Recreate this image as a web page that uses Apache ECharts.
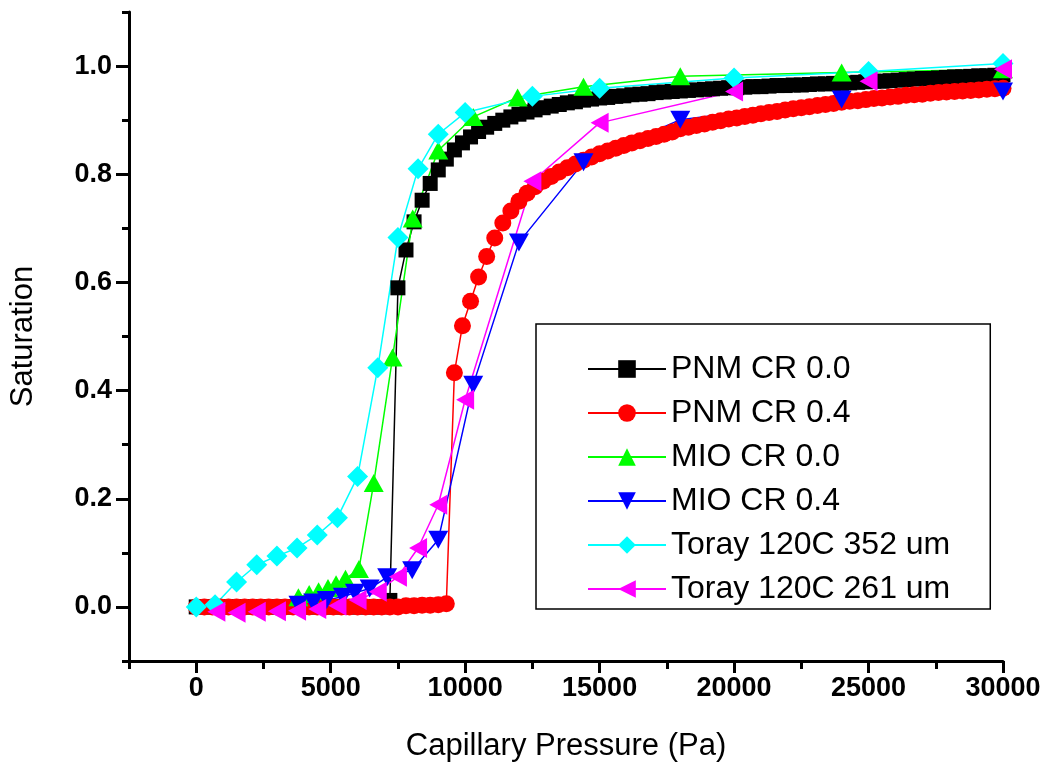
<!DOCTYPE html>
<html><head><meta charset="utf-8">
<script src="https://cdn.jsdelivr.net/npm/echarts@6/dist/echarts.min.js"></script>
<style>html,body{margin:0;padding:0;background:#fff}#c{width:1046px;height:767px}</style>
</head><body><div id="c"></div>
<script>
// PNM pressures (Pa)
const pnmPressure = [
0,300,600,900,1200,1500,1800,2100,2400,2700,
3000,3300,3600,3900,4200,4500,4800,5100,5400,5700,
6000,6300,6600,6900,7200,7500,7800,8100,8400,8700,
9000,9300,9600,9900,10200,10500,10800,11100,11400,11700,
12000,12300,12600,12900,13200,13500,13800,14100,14400,14700,
15000,15300,15600,15900,16200,16500,16800,17100,17400,17700,
18000,18300,18600,18900,19200,19500,19800,20100,20400,20700,
21000,21300,21600,21900,22200,22500,22800,23100,23400,23700,
24000,24300,24600,24900,25200,25500,25800,26100,26400,26700,
27000,27300,27600,27900,28200,28500,28800,29100,29400,29700,
30000];
const pnmCR00 = [
0,0,0,0,0,0,0,0,0,0,
0,0,0,0,0,0,0,0,0,0,
0,0,0,0,0.012,0.59,0.66,0.712,0.752,0.783,
0.808,0.828,0.845,0.858,0.869,0.879,0.887,0.894,0.9,0.906,
0.911,0.915,0.919,0.923,0.926,0.929,0.932,0.934,0.937,0.939,
0.941,0.942,0.944,0.945,0.947,0.948,0.949,0.951,0.952,0.953,
0.954,0.955,0.956,0.957,0.958,0.959,0.96,0.96,0.961,0.962,
0.962,0.963,0.964,0.964,0.965,0.965,0.966,0.967,0.967,0.968,
0.968,0.969,0.97,0.971,0.972,0.972,0.973,0.974,0.975,0.976,
0.977,0.977,0.978,0.979,0.98,0.98,0.981,0.982,0.982,0.983,
0.984];
const pnmCR04 = [
0,0,0,0,0,0,0,0,0,0,
0,0,0,0,0,0,0,0,0,0,
0,0,0,0,0,0,0.002,0.002,0.003,0.003,
0.004,0.006,0.433,0.52,0.565,0.61,0.648,0.682,0.71,0.732,
0.75,0.765,0.777,0.787,0.796,0.804,0.812,0.819,0.826,0.832,
0.838,0.843,0.848,0.853,0.858,0.862,0.866,0.87,0.874,0.878,
0.884,0.887,0.89,0.893,0.896,0.899,0.902,0.904,0.907,0.909,
0.912,0.914,0.916,0.919,0.921,0.923,0.925,0.927,0.929,0.931,
0.933,0.935,0.936,0.938,0.94,0.941,0.943,0.944,0.946,0.947,
0.948,0.95,0.951,0.952,0.953,0.954,0.955,0.956,0.957,0.958,
0.959];
const mio00Pressure = [3800,4200,4550,4900,5200,5550,6050,6600,7300,8050,9000,10300,11950,14400,18000,24000,30000];
const mio00Sat      = [0.018,0.024,0.029,0.035,0.042,0.052,0.07,0.229,0.461,0.718,0.844,0.906,0.942,0.962,0.981,0.988,0.994];
const mio04Pressure = [3800,4350,4850,5450,5900,6450,7100,8030,9000,10300,12000,14400,18000,24000,30000];
const mio04Sat      = [0.004,0.008,0.013,0.019,0.026,0.034,0.055,0.068,0.124,0.411,0.674,0.822,0.901,0.938,0.953];
const toray352Pressure = [0,700,1500,2250,3000,3750,4500,5250,6000,6750,7500,8250,9000,10000,12500,15000,20000,25000,30000];
const toray352Sat      = [0,0.004,0.046,0.078,0.094,0.109,0.133,0.165,0.241,0.442,0.683,0.81,0.874,0.914,0.944,0.959,0.978,0.99,1.005];
const toray261Pressure = [750,1500,2250,3000,3750,4500,5250,6000,6750,7500,8250,9000,10000,12500,15000,20000,25000,30000];
const toray261Sat      = [-0.009,-0.011,-0.009,-0.008,-0.007,-0.004,0.002,0.013,0.028,0.056,0.109,0.189,0.383,0.787,0.895,0.953,0.972,0.994];

const xMajorTicks = [0,5000,10000,15000,20000,25000,30000];
const xMinorTicks = [-2500,2500,7500,12500,17500,22500,27500];
const yMajorTicks = [0,0.2,0.4,0.6,0.8,1.0];
const yMinorTicks = [-0.1,0.1,0.3,0.5,0.7,0.9,1.1];

const zip = (xs, ys) => xs.map((x, i) => [x, ys[i]]);
const FONT = 'Liberation Sans, Arial, sans-serif';

function mk(name, xs, ys, color, symbol, size, rotate) {
  return {
    name, type: 'line', data: zip(xs, ys), xAxisIndex: 0, yAxisIndex: 0,
    symbol, symbolSize: size, symbolRotate: rotate || 0,
    lineStyle: { color, width: 1.5 }, itemStyle: { color },
    animation: false, emphasis: { disabled: true }
  };
}

const axisLineStyle = { onZero: false, lineStyle: { color: '#000', width: 3 } };
const chart = echarts.init(document.getElementById('c'));
chart.setOption({
  backgroundColor: '#fff',
  animation: false,
  grid: { left: 122, right: 43, top: 12, bottom: 106 },
  xAxis: [{
    type: 'value', min: -2500, max: 30000, interval: 2500,
    axisLine: axisLineStyle,
    axisTick: { length: 12, lineStyle: { width: 3, color: '#000' }, customValues: xMajorTicks },
    axisLabel: { customValues: xMajorTicks, margin: 14, color: '#000', fontSize: 27, fontWeight: 'bold', fontFamily: FONT,
      formatter: v => String(v) },
    splitLine: { show: false },
    name: 'Capillary Pressure (Pa)', nameLocation: 'middle', nameGap: 70,
    nameTextStyle: { fontSize: 31, color: '#000', fontFamily: FONT }
  }, {
    type: 'value', min: -2500, max: 30000, interval: 2500, position: 'bottom',
    axisLine: { show: false, onZero: false },
    axisTick: { length: 8, lineStyle: { width: 3, color: '#000' }, customValues: xMinorTicks },
    axisLabel: { show: false }, splitLine: { show: false }
  }],
  yAxis: [{
    type: 'value', min: -0.1, max: 1.1, interval: 0.1,
    axisLine: axisLineStyle,
    axisTick: { length: 13, lineStyle: { width: 3, color: '#000' }, customValues: yMajorTicks },
    axisLabel: { customValues: yMajorTicks, margin: 17, color: '#000', fontSize: 27, fontWeight: 'bold', fontFamily: FONT,
      formatter: v => v.toFixed(1) },
    splitLine: { show: false },
    name: 'Saturation', nameLocation: 'middle', nameGap: 90,
    nameTextStyle: { fontSize: 31, color: '#000', fontFamily: FONT }
  }, {
    type: 'value', min: -0.1, max: 1.1, interval: 0.1, position: 'left',
    axisLine: { show: false, onZero: false },
    axisTick: { length: 7, lineStyle: { width: 3, color: '#000' }, customValues: yMinorTicks },
    axisLabel: { show: false }, splitLine: { show: false }
  }],
  legend: {
    orient: 'vertical', left: 536, top: 324,
    padding: [29, 40, 4, 51],
    borderColor: '#000', borderWidth: 1.5,
    itemWidth: 78, itemHeight: 22, itemGap: 12,
    textStyle: { fontSize: 32, color: '#000', fontFamily: FONT, lineHeight: 30 },
    data: ['PNM CR 0.0','PNM CR 0.4','MIO CR 0.0','MIO CR 0.4','Toray 120C 352 um','Toray 120C 261 um']
  },
  series: [
    mk('PNM CR 0.0', pnmPressure, pnmCR00, '#000000', 'rect', 15),
    mk('PNM CR 0.4', pnmPressure, pnmCR04, '#ff0000', 'circle', 17),
    mk('MIO CR 0.0', mio00Pressure, mio00Sat, '#00ff00', 'triangle', [20, 18]),
    mk('MIO CR 0.4', mio04Pressure, mio04Sat, '#0000ff', 'triangle', [20, 18], 180),
    mk('Toray 120C 352 um', toray352Pressure, toray352Sat, '#00ffff', 'diamond', 21),
    mk('Toray 120C 261 um', toray261Pressure, toray261Sat, '#ff00ff', 'triangle', [20, 18], 90)
  ]
});
</script>
</body></html>
